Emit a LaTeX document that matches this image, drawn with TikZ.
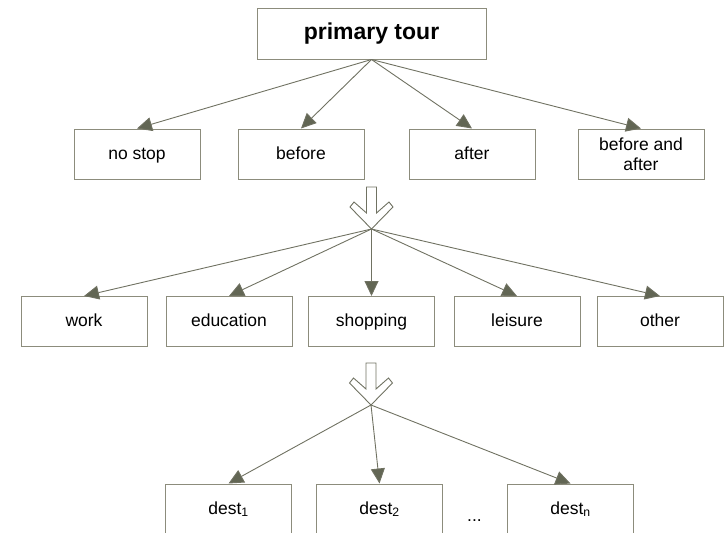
\documentclass[tikz,border=0pt]{standalone}
\usepackage{fontspec}
\setmainfont{Liberation Sans}
\usetikzlibrary{arrows.meta, positioning}
\definecolor{linegray}{RGB}{112,114,98}
\definecolor{boxgray}{RGB}{140,140,124}
\definecolor{tipgray}{RGB}{98,102,84}

\begin{document}
\begin{tikzpicture}[x=1pt, y=-1pt,
    twobox/.style={draw=boxgray, line width=1pt, minimum width=126pt, minimum height=50pt,
      inner sep=2pt, align=center, font=\fontsize{17.5}{20}\selectfont},
    box/.style={twobox, text height=13pt, text depth=3pt},
    link/.style={draw=linegray, line width=0.9pt, -{Triangle[length=15pt, width=14pt, fill=tipgray]}},
    hollow/.style={draw=linegray, line width=0.9pt, fill=white, line join=miter},
    pics/bigarrow/.style={code={
      \draw[hollow] (-5,-42) -- (5,-42) -- (5,-16) -- (17.5,-27) -- (21.5,-22) -- (0,0)
        -- (-21.5,-22) -- (-17.5,-27) -- (-5,-16) -- cycle;}}]
  \useasboundingbox (0,0) rectangle (724,533);

  % top
  \node[box, minimum width=229pt, minimum height=51pt, text height=17pt, text depth=5pt,
    font=\bfseries\fontsize{23}{26}\selectfont] (tour) at (371.5,33.5) {primary tour};

  % stops
  \node[box] (nostop) at (137,154) {no stop};
  \node[box] (before) at (301,154) {before};
  \node[box] (after) at (472,154) {after};
  \node[twobox] (both) at (641,154) {before and\\after};

  \foreach \n in {nostop, before, after, both}
    \draw[link] (tour.south) -- (\n.north);

  % purposes
  \coordinate (hub1) at (371.5,229);
  \pic at (hub1) {bigarrow};
  \node[box] (work) at (84,321.5) {work};
  \node[box] (education) at (229,321.5) {education};
  \node[box] (shopping) at (371.5,321.5) {shopping};
  \node[box] (leisure) at (517,321.5) {leisure};
  \node[box] (other) at (660,321.5) {other};

  \foreach \n in {work, education, shopping, leisure, other}
    \draw[link] (hub1) -- (\n.north);

  % destinations
  \coordinate (hub2) at (371,405);
  \pic at (hub2) {bigarrow};
  \node[box] (dest1) at (228.5,509) {dest\textsubscript{1}};
  \node[box] (dest2) at (379.5,509) {dest\textsubscript{2}};
  \node[box] (destn) at (570.5,509) {dest\textsubscript{n}};
  \node[anchor=base, font=\fontsize{17.5}{20}\selectfont] (dots) at (474.5,521) {...};

  \foreach \n in {dest1, dest2, destn}
    \draw[link] (hub2) -- (\n.north);
\end{tikzpicture}
\end{document}
